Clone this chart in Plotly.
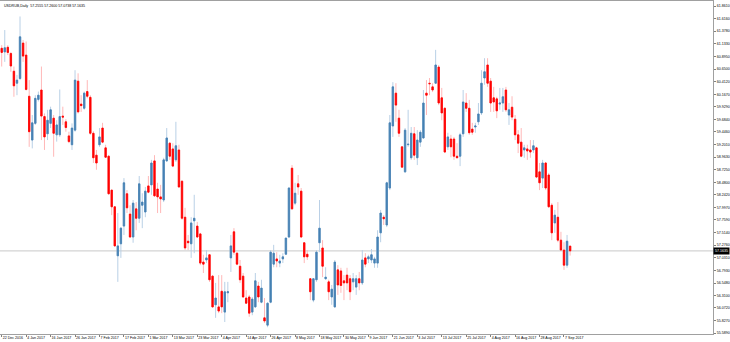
import plotly.graph_objects as go

title_text = "USDRUB,Daily  57.2555 57.2600 57.0738 57.1635"
last_price = 57.1635

opens = [61.05, 60.98, 61.07, 60.95, 60.61, 60.38, 60.47, 61.15, 60.92, 60.13,
         59.29, 59.61, 60.07, 60.25, 59.74, 59.41, 59.61, 59.71, 59.39, 59.39,
         59.75, 59.64, 59.37, 59.20, 59.48, 60.42, 59.98, 59.90, 60.22, 60.11,
         59.42, 59.00, 59.20, 59.52, 59.14, 58.98, 58.33, 58.01, 57.07, 57.30,
         57.64, 58.26, 57.87, 57.43, 57.97, 57.79, 58.04, 57.91, 58.41, 58.43,
         58.89, 58.35, 58.20, 58.14, 58.89, 59.23, 59.12, 58.91, 59.10, 58.50,
         57.81, 57.35, 57.30, 57.74, 57.64, 57.49, 56.95, 56.99, 57.09, 56.68,
         56.13, 56.09, 56.39, 55.99, 56.36, 57.03, 57.53, 57.12, 56.87, 56.68,
         56.26, 56.28, 55.99, 56.09, 56.49, 56.18, 55.88, 55.74, 56.18, 56.91,
         57.01, 56.93, 57.01, 57.10, 57.43, 58.75, 58.08, 58.45, 58.31, 57.32,
         57.10, 56.63, 56.22, 56.61, 57.32, 57.22, 56.63, 56.57, 56.28, 56.09,
         56.80, 56.78, 56.59, 56.70, 56.63, 56.57, 56.47, 56.63, 56.55, 57.03,
         57.01, 56.99, 56.93, 56.93, 57.51, 57.81, 57.66, 58.37, 59.56, 60.19,
         59.71, 59.16, 58.68, 59.20, 58.95, 59.41, 58.95, 59.25, 59.33, 60.19,
         60.38, 60.31, 60.38, 60.69, 60.10, 59.90, 59.16, 59.31, 59.31, 58.98,
         58.98, 59.41, 60.00, 59.90, 59.50, 59.54, 59.64, 59.81, 60.48, 60.73,
         60.42, 60.10, 60.08, 59.98, 60.00, 60.25, 59.77, 59.92, 59.69, 59.39,
         59.25, 59.10, 59.12, 59.10, 59.10, 59.14, 58.68, 58.56, 58.85, 58.62,
         58.04, 57.70, 57.81, 57.37, 57.18, 56.89, 57.2555]

highs = [61.11, 61.40, 61.11, 60.98, 60.70, 60.54, 61.66, 61.21, 61.18, 60.44,
         59.77, 60.15, 60.22, 60.70, 59.80, 59.87, 59.93, 59.77, 59.67, 60.26,
         59.93, 59.69, 59.45, 59.61, 60.63, 60.57, 60.15, 60.22, 60.44, 60.15,
         59.46, 59.10, 59.52, 59.62, 59.20, 59.00, 58.33, 58.01, 57.89, 57.62,
         58.56, 58.33, 58.04, 58.14, 58.10, 58.60, 58.27, 58.39, 58.60, 58.91,
         59.00, 58.47, 58.43, 58.95, 59.52, 59.25, 59.23, 59.64, 59.20, 58.52,
         57.99, 57.47, 57.81, 58.24, 57.72, 57.51, 57.09, 57.18, 57.09, 56.70,
         56.55, 56.70, 56.70, 56.57, 56.57, 57.47, 57.60, 57.14, 56.99, 56.74,
         56.41, 56.32, 56.28, 56.74, 56.57, 56.61, 56.26, 56.18, 57.18, 57.28,
         57.14, 57.09, 57.12, 57.41, 58.39, 58.81, 58.47, 58.62, 58.37, 57.33,
         57.18, 56.63, 56.64, 57.18, 58.14, 57.37, 56.85, 56.61, 56.51, 56.99,
         56.89, 56.84, 56.70, 56.84, 56.70, 56.74, 56.70, 56.76, 57.18, 57.12,
         57.09, 57.20, 57.05, 57.56, 57.95, 57.85, 58.49, 59.77, 60.40, 60.38,
         59.87, 59.17, 59.52, 59.87, 59.54, 59.54, 59.48, 59.48, 60.25, 60.44,
         60.48, 60.38, 61.02, 60.73, 60.29, 59.92, 59.43, 59.39, 59.35, 59.23,
         59.43, 60.25, 60.19, 60.06, 59.62, 59.62, 60.00, 60.63, 60.86, 60.86,
         60.48, 60.31, 60.12, 60.29, 60.29, 60.31, 60.00, 60.13, 59.77, 59.48,
         59.52, 59.20, 59.20, 59.29, 59.29, 59.16, 58.85, 58.91, 58.87, 58.66,
         58.08, 57.95, 58.10, 57.53, 57.33, 57.47, 57.2600]

lows = [60.70, 60.79, 60.92, 60.60, 60.12, 60.15, 60.44, 60.79, 60.24, 59.16,
        59.13, 59.58, 60.03, 59.29, 59.10, 59.29, 59.52, 58.97, 59.26, 59.35,
        59.58, 59.45, 59.23, 59.10, 59.45, 59.80, 59.83, 59.87, 60.09, 59.39,
        58.85, 58.72, 59.16, 59.23, 58.95, 58.24, 57.85, 57.24, 56.57, 57.03,
        57.47, 57.89, 57.41, 57.32, 57.56, 57.70, 57.60, 57.81, 58.27, 58.24,
        58.20, 57.89, 57.89, 58.10, 58.87, 58.91, 58.77, 58.87, 58.37, 57.76,
        57.18, 57.18, 57.03, 57.12, 57.41, 56.89, 56.74, 56.93, 56.57, 56.07,
        55.88, 55.97, 55.97, 55.80, 56.18, 56.76, 57.09, 56.89, 56.55, 56.26,
        56.16, 55.90, 55.93, 56.07, 56.18, 56.16, 55.78, 55.70, 56.16, 56.85,
        56.85, 56.85, 56.93, 57.09, 57.41, 57.95, 58.04, 58.24, 57.41, 56.93,
        56.99, 56.22, 56.18, 56.57, 57.14, 56.66, 56.61, 56.22, 56.13, 56.07,
        56.32, 56.36, 56.22, 56.41, 56.22, 56.41, 56.32, 56.41, 56.51, 56.85,
        56.93, 56.93, 56.84, 56.84, 57.33, 57.66, 57.62, 58.33, 59.35, 59.64,
        59.35, 58.76, 58.66, 59.16, 58.91, 58.91, 58.81, 59.16, 59.31, 59.77,
        60.15, 60.21, 60.37, 59.96, 59.67, 59.04, 59.10, 58.96, 58.91, 58.94,
        58.79, 59.35, 59.83, 59.39, 59.39, 59.43, 59.58, 59.77, 60.35, 60.31,
        59.83, 59.83, 59.71, 59.87, 59.83, 59.83, 59.58, 59.67, 59.29, 59.04,
        58.96, 58.95, 58.91, 58.95, 59.04, 58.56, 58.33, 58.37, 58.33, 57.99,
        57.37, 57.51, 57.33, 57.18, 56.80, 56.84, 57.0738]

closes = [60.97, 61.06, 60.97, 60.71, 60.33, 60.44, 61.27, 60.90, 60.26, 59.45,
          59.62, 60.09, 60.15, 59.75, 59.35, 59.67, 59.87, 59.42, 59.58, 59.74,
          59.73, 59.53, 59.26, 59.52, 60.44, 59.83, 59.95, 60.19, 60.13, 59.42,
          58.95, 58.85, 59.35, 59.25, 58.96, 58.26, 58.01, 57.26, 57.26, 57.60,
          58.47, 57.99, 57.43, 58.08, 57.79, 58.45, 58.10, 58.31, 58.29, 58.85,
          58.22, 58.20, 58.16, 58.91, 59.33, 58.98, 58.79, 59.18, 58.39, 57.79,
          57.22, 57.32, 57.70, 57.79, 57.43, 56.93, 56.91, 57.03, 56.61, 56.09,
          56.26, 56.01, 56.09, 56.38, 56.38, 57.26, 57.14, 56.91, 56.61, 56.28,
          56.16, 55.97, 56.24, 56.59, 56.28, 56.45, 55.82, 56.16, 57.14, 57.12,
          56.97, 56.97, 57.05, 57.41, 58.37, 57.97, 58.27, 58.39, 57.43, 57.05,
          57.05, 56.38, 56.63, 57.14, 57.60, 56.87, 56.66, 56.38, 56.43, 56.95,
          56.51, 56.50, 56.55, 56.55, 56.38, 56.63, 56.63, 56.55, 56.99, 56.91,
          57.05, 57.09, 57.01, 57.43, 57.89, 57.78, 58.47, 59.62, 60.31, 59.96,
          59.42, 58.77, 59.48, 59.21, 59.42, 59.00, 59.29, 59.44, 60.00, 60.15,
          60.37, 60.25, 60.73, 60.00, 59.81, 59.06, 59.35, 59.16, 58.98, 58.95,
          59.39, 60.02, 59.90, 59.43, 59.44, 59.56, 59.79, 60.38, 60.60, 60.38,
          60.00, 60.02, 59.85, 60.00, 60.12, 59.87, 59.87, 59.73, 59.39, 59.23,
          58.98, 59.14, 59.08, 59.06, 59.18, 58.58, 58.47, 58.85, 58.37, 58.01,
          57.51, 57.85, 57.37, 57.18, 56.89, 57.35, 57.1635]

date_labels = ["22 Dec 2016", "4 Jan 2017", "16 Jan 2017", "26 Jan 2017",
               "7 Feb 2017", "17 Feb 2017", "1 Mar 2017", "13 Mar 2017",
               "23 Mar 2017", "4 Apr 2017", "14 Apr 2017", "26 Apr 2017",
               "8 May 2017", "18 May 2017", "30 May 2017", "9 Jun 2017",
               "21 Jun 2017", "3 Jul 2017", "13 Jul 2017", "25 Jul 2017",
               "4 Aug 2017", "16 Aug 2017", "28 Aug 2017", "7 Sep 2017"]
bars_per_label = 8

price_labels = ["61.8610", "61.6160", "61.3780", "61.1330", "60.8950", "60.6500",
                "60.4120", "60.1670", "59.9290", "59.6840", "59.4460", "59.2010",
                "58.9630", "58.7250", "58.4800", "58.2420", "57.9970", "57.7590",
                "57.5140", "57.2760", "57.0310", "56.7930", "56.5480", "56.3100",
                "56.0720", "55.8270", "55.5890"]

n = len(opens)
xs = list(range(n))
body_hi = [max(o, c) for o, c in zip(opens, closes)]
body_lo = [min(o, c) for o, c in zip(opens, closes)]

UP = "#4682B4"
DN = "#FF0000"
UP_W = "#B9D0E6"
DN_W = "#FFB8B8"
FONT = "Liberation Sans"
FS = 3.6

fig = go.Figure()
# wicks (pale)
fig.add_trace(go.Candlestick(
    x=xs, open=opens, high=highs, low=lows, close=closes,
    increasing=dict(line=dict(color=UP_W, width=1), fillcolor=UP_W),
    decreasing=dict(line=dict(color=DN_W, width=1), fillcolor=DN_W),
    whiskerwidth=0, showlegend=False, hoverinfo="skip"))
# bodies (strong)
fig.add_trace(go.Candlestick(
    x=xs, open=opens, high=body_hi, low=body_lo, close=closes,
    increasing=dict(line=dict(color=UP, width=0.8), fillcolor=UP),
    decreasing=dict(line=dict(color=DN, width=0.8), fillcolor=DN),
    whiskerwidth=0, showlegend=False))

fig.add_shape(type="line", xref="paper", x0=0, x1=1, yref="y",
              y0=last_price, y1=last_price,
              line=dict(color="#C8C8C8", width=1), layer="below")

fig.add_annotation(text=title_text, xref="paper", x=0, xanchor="left", xshift=2,
                   yref="paper", y=1, yanchor="top", yshift=-1,
                   showarrow=False, font=dict(family=FONT, size=FS, color="#000000"))

fig.add_annotation(text=f"{last_price:.4f}", xref="paper", x=1, xanchor="left",
                   yref="y", y=last_price, yanchor="middle", showarrow=False,
                   bgcolor="#000000", borderpad=1, xshift=0,
                   font=dict(family=FONT, size=FS, color="#FFFFFF"))

y_lo = 55.570
y_hi = 61.957
x_lo = -0.556
x_hi = 232.76

fig.update_layout(
    width=730, height=342,
    margin=dict(l=0, r=17, t=1, b=8),
    paper_bgcolor="#FFFFFF", plot_bgcolor="#FFFFFF",
    boxgap=0.35,
    font=dict(family=FONT, size=FS, color="#000000"),
    xaxis=dict(range=[x_lo, x_hi], rangeslider=dict(visible=False),
               tickmode="array", automargin=False, tickangle=0,
               tickvals=[k * bars_per_label for k in range(len(date_labels))],
               ticktext=date_labels, ticks="outside", ticklen=2,
               tickcolor="#808080", tickwidth=1,
               ticklabelposition="outside right",
               showgrid=False, zeroline=False,
               showline=True, linecolor="#A0A0A0", linewidth=1, mirror=True,
               tickfont=dict(family=FONT, size=FS, color="#000000")),
    yaxis=dict(range=[y_lo, y_hi], side="right", tickmode="array", automargin=False,
               tickvals=[float(s) for s in price_labels], ticktext=price_labels,
               ticks="outside", ticklen=2, tickcolor="#808080", tickwidth=1,
               showgrid=False, zeroline=False,
               showline=True, linecolor="#A0A0A0", linewidth=1, mirror=True,
               tickfont=dict(family=FONT, size=FS, color="#000000")),
)

fig.write_html("out.html", config={"displayModeBar": False})
